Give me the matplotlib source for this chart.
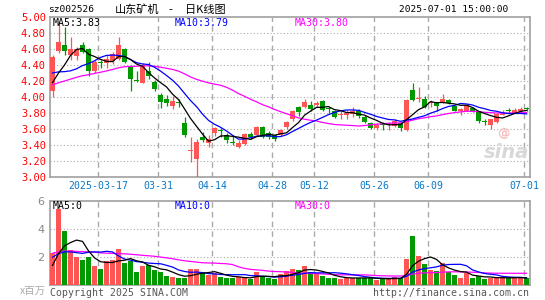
import numpy as np
import pandas as pd
import matplotlib
matplotlib.use('Agg')
import matplotlib.pyplot as plt

# trading days shown
dates = ['2025-03-05', '2025-03-06', '2025-03-07', '2025-03-10', '2025-03-11', '2025-03-12', '2025-03-13', '2025-03-14',
         '2025-03-17', '2025-03-18', '2025-03-19', '2025-03-20', '2025-03-21', '2025-03-24', '2025-03-25', '2025-03-26',
         '2025-03-27', '2025-03-28', '2025-03-31', '2025-04-01', '2025-04-02', '2025-04-03', '2025-04-07', '2025-04-08',
         '2025-04-09', '2025-04-10', '2025-04-11', '2025-04-14', '2025-04-15', '2025-04-16', '2025-04-17', '2025-04-18',
         '2025-04-21', '2025-04-22', '2025-04-23', '2025-04-24', '2025-04-25', '2025-04-28', '2025-04-29', '2025-04-30',
         '2025-05-06', '2025-05-07', '2025-05-08', '2025-05-09', '2025-05-12', '2025-05-13', '2025-05-14', '2025-05-15',
         '2025-05-16', '2025-05-19', '2025-05-20', '2025-05-21', '2025-05-22', '2025-05-23', '2025-05-26', '2025-05-27',
         '2025-05-28', '2025-05-29', '2025-05-30', '2025-06-03', '2025-06-04', '2025-06-05', '2025-06-06', '2025-06-09',
         '2025-06-10', '2025-06-11', '2025-06-12', '2025-06-13', '2025-06-16', '2025-06-17', '2025-06-18', '2025-06-19',
         '2025-06-20', '2025-06-23', '2025-06-24', '2025-06-25', '2025-06-26', '2025-06-27', '2025-06-30', '2025-07-01']

opens = [4.08, 4.58, 4.65, 4.53, 4.51, 4.65, 4.60, 4.33, 4.43, 4.43, 4.45, 4.47, 4.60, 4.38, 4.21, 4.18,
         4.32, 4.19, 4.03, 3.98, 3.89, 3.93, 3.67, 3.33, 3.23, 3.50, 3.43, 3.55, 3.59, 3.53, 3.43, 3.38,
         3.41, 3.54, 3.52, 3.63, 3.55, 3.52, 3.52, 3.62, 3.72, 3.87, 3.88, 3.90, 3.90, 3.95, 3.86, 3.82,
         3.78, 3.78, 3.79, 3.83, 3.75, 3.67, 3.61, 3.66, 3.65, 3.64, 3.68, 3.59, 4.09, 3.97, 3.97, 3.93,
         3.94, 3.94, 3.96, 3.89, 3.82, 3.83, 3.86, 3.82, 3.70, 3.65, 3.69, 3.78, 3.84, 3.80, 3.82, 3.86]
highs = [4.52, 4.95, 4.87, 4.75, 4.63, 4.69, 4.61, 4.46, 4.46, 4.52, 4.56, 4.75, 4.61, 4.40, 4.33, 4.42,
         4.44, 4.21, 4.05, 4.02, 4.01, 3.98, 3.75, 3.50, 3.48, 3.56, 3.53, 3.63, 3.61, 3.55, 3.53, 3.46,
         3.55, 3.56, 3.64, 3.64, 3.57, 3.53, 3.60, 3.70, 3.84, 3.89, 3.97, 3.95, 3.95, 3.96, 3.87, 3.84,
         3.82, 3.84, 3.88, 3.85, 3.77, 3.69, 3.67, 3.69, 3.69, 3.72, 3.69, 3.97, 4.18, 4.13, 4.01, 3.96,
         3.94, 4.04, 3.98, 3.90, 3.86, 3.91, 3.88, 3.83, 3.73, 3.72, 3.80, 3.84, 3.86, 3.86, 3.87, 3.88]
lows = [4.00, 4.55, 4.53, 4.46, 4.46, 4.55, 4.26, 4.30, 4.36, 4.36, 4.41, 4.46, 4.42, 4.07, 4.19, 4.17,
        4.22, 4.08, 3.86, 3.89, 3.85, 3.88, 3.50, 3.19, 3.00, 3.44, 3.38, 3.51, 3.50, 3.42, 3.40, 3.36,
        3.40, 3.48, 3.51, 3.49, 3.47, 3.45, 3.51, 3.60, 3.70, 3.76, 3.86, 3.83, 3.88, 3.83, 3.80, 3.74,
        3.73, 3.73, 3.75, 3.74, 3.67, 3.60, 3.59, 3.59, 3.59, 3.63, 3.58, 3.58, 3.95, 3.94, 3.86, 3.87,
        3.83, 3.93, 3.91, 3.82, 3.78, 3.82, 3.81, 3.68, 3.65, 3.60, 3.68, 3.77, 3.80, 3.80, 3.81, 3.83]
closes = [4.50, 4.69, 4.58, 4.60, 4.60, 4.56, 4.33, 4.44, 4.42, 4.48, 4.54, 4.65, 4.44, 4.23, 4.20, 4.40,
          4.26, 4.10, 3.94, 3.93, 3.95, 3.92, 3.52, 3.34, 3.44, 3.46, 3.48, 3.61, 3.57, 3.46, 3.42, 3.43,
          3.54, 3.50, 3.63, 3.50, 3.50, 3.48, 3.59, 3.69, 3.83, 3.81, 3.94, 3.85, 3.92, 3.84, 3.85, 3.75,
          3.79, 3.80, 3.83, 3.76, 3.69, 3.61, 3.65, 3.65, 3.66, 3.70, 3.61, 3.96, 3.96, 3.98, 3.87, 3.94,
          3.89, 3.98, 3.93, 3.83, 3.85, 3.90, 3.83, 3.70, 3.69, 3.72, 3.79, 3.79, 3.83, 3.84, 3.85, 3.85]
# volume, millions of shares
volumes = [2.26, 5.40, 3.86, 2.50, 2.02, 1.79, 2.02, 1.36, 1.14, 1.74, 1.79, 2.57, 1.60, 1.74, 0.95, 1.36,
           1.40, 1.07, 0.95, 0.64, 0.55, 0.50, 0.50, 1.14, 1.14, 0.95, 0.71, 0.83, 0.55, 0.50, 0.50, 0.55,
           0.55, 0.45, 0.95, 0.64, 0.50, 0.43, 0.76, 1.00, 1.14, 1.07, 1.36, 0.95, 0.83, 0.64, 0.52, 0.52,
           0.43, 0.52, 0.52, 0.52, 0.52, 0.48, 0.36, 0.43, 0.43, 0.60, 0.48, 1.86, 3.50, 2.07, 1.50, 1.07,
           1.00, 1.60, 0.95, 0.71, 0.52, 0.83, 0.52, 0.64, 0.40, 0.48, 0.55, 0.55, 0.55, 0.48, 0.48, 0.48]

# sessions before the window, only feed the moving averages
prior_close = [3.88, 3.90, 3.93, 3.91, 3.95, 3.97, 3.94, 3.98, 4.00, 3.99, 4.02, 4.05,
               4.10, 4.15, 4.22, 4.28, 4.25, 4.30, 4.33, 4.38,
               4.55, 4.55, 4.50, 4.35, 4.15, 4.09, 4.08, 4.00, 4.23]
prior_vol = [2.1, 2.6, 2.3, 2.8, 2.2, 2.5, 2.0, 2.7, 2.4, 2.3, 2.9, 2.2, 2.6, 2.1, 2.5, 2.4, 2.2, 2.6, 2.3, 2.5,
             2.8, 2.6, 2.5, 2.6, 2.3, 1.2, 1.1, 1.3, 1.14]

tick_dates = ['2025-03-17', '2025-03-31', '2025-04-14', '2025-04-28', '2025-05-12', '2025-05-26', '2025-06-09', '2025-07-01']
tick_labels = ['2025-03-17', '03-31', '04-14', '04-28', '05-12', '05-26', '06-09', '07-01']

RED = '#ff5555'
GREEN = '#009900'
GRID = '#aaaaaa'
FRAME = '#a0a0a0'
MONO = 'DejaVu Sans Mono'
CJK = ['Noto Sans CJK SC', 'DejaVu Sans']

n = len(dates)
x = np.arange(n)
o = np.array(opens); h = np.array(highs); l = np.array(lows); c = np.array(closes)
v = np.array(volumes)
up = c >= o
cols = np.where(up, RED, GREEN)

allc = pd.Series(prior_close + closes)
allv = pd.Series(prior_vol + volumes)
k = len(prior_close)
ma = {p: allc.rolling(p).mean().values[k:] for p in (5, 10, 30)}
vma = {p: allv.rolling(p).mean().values[k:] for p in (5, 10, 30)}
ma_cols = {5: 'black', 10: '#0000ff', 30: '#ff00ff'}

W, H = 545, 300
fig = plt.figure(figsize=(W / 100, H / 100), dpi=100)
fig.patch.set_facecolor('white')


def px_axes(left, top, right, bottom):
    return fig.add_axes([left / W, 1 - bottom / H, (right - left) / W, (bottom - top) / H])


ax = px_axes(50, 17, 530, 177)
axv = px_axes(50, 201, 530, 285)

xlim = (-0.42, n - 0.42)
tick_pos = [dates.index(d) - 0.38 for d in tick_dates]

# price panel
ax.vlines(x, l, h, colors=cols, lw=0.9, zorder=3)
body = np.maximum(np.abs(c - o), 0.012)
ax.bar(x, body, bottom=np.minimum(o, c), width=0.82, color=cols, lw=0, zorder=4)
for p in (30, 10, 5):
    ax.plot(x, ma[p], color=ma_cols[p], lw=0.9, zorder=5)
ax.set_xlim(*xlim)
ax.set_ylim(3.0, 5.0)
ax.set_yticks(np.arange(3.0, 5.01, 0.2))
ax.set_yticklabels(['%.2f' % t for t in np.arange(3.0, 5.01, 0.2)], color='red',
                   fontsize=7.5, family=MONO)
for t in np.arange(3.2, 4.9, 0.2):
    ax.axhline(t, color=GRID, lw=0.8, ls=(0, (1, 2)), zorder=1)
for t in tick_pos:
    ax.axvline(t, color=GRID, lw=1, ls=(0, (4, 3)), zorder=1)
ax.set_xticks(tick_pos)
ax.set_xticklabels(tick_labels, color='#0a78c8', fontsize=7.1, family=MONO)
ax.tick_params(length=0, pad=3)

ax.text(3 / 480, 0.995, 'MA5:%.2f' % ma[5][-1], transform=ax.transAxes, color='black',
        fontsize=7.1, family=MONO, va='top', ha='left', zorder=6)
ax.text(125 / 480, 0.995, 'MA10:%.2f' % ma[10][-1], transform=ax.transAxes, color='#0000ff',
        fontsize=7.1, family=MONO, va='top', ha='left', zorder=6)
ax.text(245 / 480, 0.995, 'MA30:%.2f' % ma[30][-1], transform=ax.transAxes, color='#ff00ff',
        fontsize=7.1, family=MONO, va='top', ha='left', zorder=6)
ax.text(0.998, 0.15, 'sina', transform=ax.transAxes, color='#d8d8d8', fontsize=14,
        fontweight='bold', style='italic', ha='right', va='center', zorder=2)
ax.text(0.945, 0.27, '@', transform=ax.transAxes, color='#f5c0c0', fontsize=9,
        fontweight='bold', ha='center', va='center', zorder=2)

# volume panel
axv.bar(x, v, width=0.82, color=cols, lw=0, zorder=3)
for p in (30, 10, 5):
    axv.plot(x, vma[p], color=ma_cols[p], lw=0.9, zorder=5)
axv.set_xlim(*xlim)
axv.set_ylim(0, 6)
axv.set_yticks([2, 4, 6])
axv.set_yticklabels(['2', '4', '6'], color='#888888', fontsize=8)
for t in (2, 4):
    axv.axhline(t, color=GRID, lw=0.8, ls=(0, (1, 2)), zorder=1)
for t in tick_pos:
    axv.axvline(t, color=GRID, lw=1, ls=(0, (4, 3)), zorder=1)
axv.set_xticks([])
axv.tick_params(length=0, pad=4)
axv.text(3 / 480, 0.995, 'MA5:0', transform=axv.transAxes, color='black',
         fontsize=7.1, family=MONO, va='top', ha='left', zorder=6)
axv.text(125 / 480, 0.995, 'MA10:0', transform=axv.transAxes, color='#0000ff',
         fontsize=7.1, family=MONO, va='top', ha='left', zorder=6)
axv.text(245 / 480, 0.995, 'MA30:0', transform=axv.transAxes, color='#ff00ff',
         fontsize=7.1, family=MONO, va='top', ha='left', zorder=6)

for a in (ax, axv):
    for s in a.spines.values():
        s.set_color(FRAME)
        s.set_linewidth(1.2)


def ftext(px, py, s, **kw):
    fig.text(px / W, 1 - py / H, s, **kw)


ftext(48, 10, 'sz002526', fontsize=6.8, family=MONO, va='center', ha='left')
ftext(115, 10, '山东矿机', fontsize=8, family=CJK, va='center', ha='left')
ftext(170.5, 10, '-', fontsize=8, family=CJK, va='center', ha='center')
ftext(185, 10, '日K线图', fontsize=8, family=CJK, va='center', ha='left')
ftext(508, 10, '2025-07-01 15:00:00', fontsize=6.8, family=MONO, va='center', ha='right')
ftext(46, 291, 'x百万', fontsize=7.5, color='#aaaaaa', family=CJK, va='center', ha='right')
ftext(50, 293, 'Copyright 2025 SINA.COM', fontsize=7.1, color='#555555', family=MONO,
      va='center', ha='left')
ftext(529, 293, 'http://finance.sina.com.cn', fontsize=7.1, color='#555555', family=MONO,
      va='center', ha='right')

fig.savefig('out.png', dpi=100)
